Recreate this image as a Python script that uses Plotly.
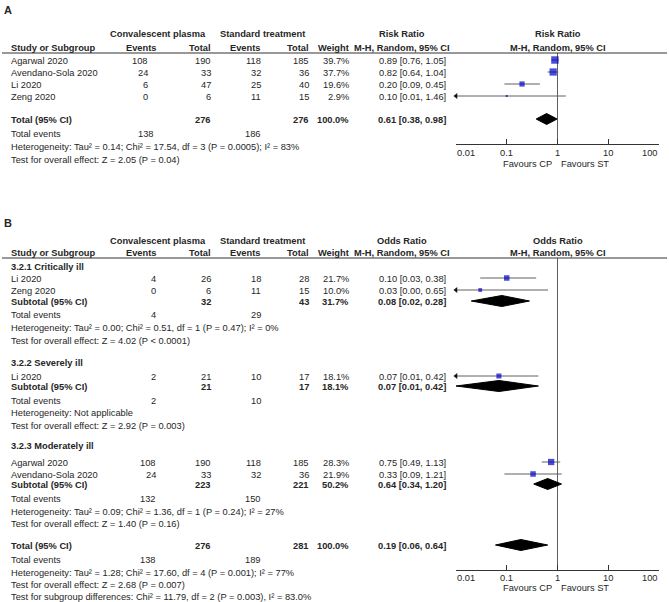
import math
import plotly.graph_objects as go

# ---------------- DATA ----------------
# Panel A: risk ratio
A_studies = ["Agarwal 2020", "Avendano-Sola 2020", "Li 2020", "Zeng 2020"]
A_cp_events = [108, 24, 6, 0]
A_cp_total = [190, 33, 47, 6]
A_st_events = [118, 32, 25, 11]
A_st_total = [185, 36, 40, 15]
A_weight = [39.7, 37.7, 19.6, 2.9]
A_est = [0.89, 0.82, 0.20, 0.10]
A_lo = [0.76, 0.64, 0.09, 0.01]
A_hi = [1.05, 1.04, 0.45, 1.46]
A_total_n = [276, 276]
A_total_events = [138, 186]
A_total_weight = 100.0
A_total_ci = [0.61, 0.38, 0.98]
A_het = "Heterogeneity: Tau² = 0.14; Chi² = 17.54, df = 3 (P = 0.0005); I² = 83%"
A_test = "Test for overall effect: Z = 2.05 (P = 0.04)"

# Panel B: odds ratio by subgroup
B_groups = ["3.2.1 Critically ill", "3.2.2 Severely ill", "3.2.3 Moderately ill"]
B_studies = [["Li 2020", "Zeng 2020"], ["Li 2020"], ["Agarwal 2020", "Avendano-Sola 2020"]]
B_cp_events = [[4, 0], [2], [108, 24]]
B_cp_total = [[26, 6], [21], [190, 33]]
B_st_events = [[18, 11], [10], [118, 32]]
B_st_total = [[28, 15], [17], [185, 36]]
B_weight = [[21.7, 10.0], [18.1], [28.3, 21.9]]
B_est = [[0.10, 0.03], [0.07], [0.75, 0.33]]
B_lo = [[0.03, 0.00], [0.01], [0.49, 0.09]]
B_hi = [[0.38, 0.65], [0.42], [1.13, 1.21]]
B_sub_n = [[32, 43], [21, 17], [223, 221]]
B_sub_weight = [31.7, 18.1, 50.2]
B_sub_ci = [[0.08, 0.02, 0.28], [0.07, 0.01, 0.42], [0.64, 0.34, 1.20]]
B_sub_events = [[4, 29], [2, 10], [132, 150]]
B_sub_het = ["Heterogeneity: Tau² = 0.00; Chi² = 0.51, df = 1 (P = 0.47); I² = 0%",
             "Heterogeneity: Not applicable",
             "Heterogeneity: Tau² = 0.09; Chi² = 1.36, df = 1 (P = 0.24); I² = 27%"]
B_sub_test = ["Test for overall effect: Z = 4.02 (P &lt; 0.0001)",
              "Test for overall effect: Z = 2.92 (P = 0.003)",
              "Test for overall effect: Z = 1.40 (P = 0.16)"]
B_total_n = [276, 281]
B_total_events = [138, 189]
B_total_weight = 100.0
B_total_ci = [0.19, 0.06, 0.64]
B_total_het = "Heterogeneity: Tau² = 1.28; Chi² = 17.60, df = 4 (P = 0.001); I² = 77%"
B_total_test = "Test for overall effect: Z = 2.68 (P = 0.007)"
B_subgroup_test = "Test for subgroup differences: Chi² = 11.79, df = 2 (P = 0.003), I² = 83.0%"

tick_vals = [0.01, 0.1, 1, 10, 100]
tick_text = ["0.01", "0.1", "1", "10", "100"]
favours = ["Favours CP", "Favours ST"]

# ---------------- LAYOUT CONSTANTS ----------------
W, H = 669, 602
FONT = "Liberation Sans, Arial, sans-serif"
FS = 9.3
TXT = "#262626"
BLUE = "#0000C8"
LINEC = "#606060"
X_NAME, X_CPE_A, X_CPE_A_TOT, X_CPE_B = 10, 149, 155, 157
X_CPT, X_STE, X_STT, X_WT, X_CI = 212, 262, 310, 350, 447
X_CP_HDR, X_ST_HDR, X_CI_HDR = 158, 262.5, 402
AX_L, AX_R = 456, 659
XMIN = 0.01
SQ_K = 1.18
DH = 5.5

ann = []
shapes = []
traces = []


def T(px, py, s, anchor="left", bold=False, size=FS):
    ann.append(dict(x=px / W, y=py, xref="paper", yref="y",
                    text=f"<b>{s}</b>" if bold else s, showarrow=False,
                    xanchor=anchor, yanchor="middle", borderpad=0,
                    font=dict(family=FONT, size=size, color=TXT)))


def hline(py):
    shapes.append(dict(type="line", xref="paper", yref="y", x0=2 / W, x1=667 / W,
                       y0=py, y1=py, line=dict(color="#333333", width=1)))


def header(y1, y2, title):
    T(X_CP_HDR, y1, "Convalescent plasma", "center", True)
    T(X_ST_HDR, y1, "Standard treatment", "center", True)
    T(X_CI_HDR, y1, title, "center", True)
    T((AX_L + AX_R) / 2, y1, title, "center", True)
    T(X_NAME, y2, "Study or Subgroup", "left", True)
    T(X_CP_HDR, y2, "Events", "right", True)
    T(X_CPT, y2, "Total", "right", True)
    T(X_STE, y2, "Events", "right", True)
    T(X_STT, y2, "Total", "right", True)
    T(X_WT, y2, "Weight", "right", True)
    T(X_CI_HDR, y2, "M-H, Random, 95% CI", "center", True)
    T((AX_L + AX_R) / 2, y2, "M-H, Random, 95% CI", "center", True)


def ci_txt(e, l, h):
    return f"{e:.2f} [{l:.2f}, {h:.2f}]"


def study_marks(xa, ests, los, his, ws, ys):
    lx, ly, ax_, ay_ = [], [], [], []
    for e, l, h, y in zip(ests, los, his, ys):
        lx += [max(l, XMIN), h, None]
        ly += [y, y, None]
        if l <= XMIN:
            ax_.append(XMIN)
            ay_.append(y)
    traces.append(go.Scatter(x=lx, y=ly, mode="lines", xaxis=xa, yaxis="y",
                             line=dict(color=LINEC, width=1), hoverinfo="skip",
                             showlegend=False, cliponaxis=False))
    if ax_:
        traces.append(go.Scatter(x=ax_, y=ay_, mode="markers", xaxis=xa, yaxis="y",
                                 marker=dict(symbol="triangle-left", size=5, color="#111"),
                                 showlegend=False, cliponaxis=False, hoverinfo="skip"))
    traces.append(go.Scatter(x=ests, y=ys, mode="markers", xaxis=xa, yaxis="y",
                             marker=dict(symbol="square", color=BLUE,
                                         size=[SQ_K * math.sqrt(w) for w in ws],
                                         line=dict(width=0)),
                             showlegend=False, cliponaxis=False))


def diamonds(xa, cis, ys):
    dx, dy = [], []
    for (e, l, h), y in zip(cis, ys):
        dx += [l, e, h, e, l, None]
        dy += [y, y - DH, y, y + DH, y, None]
    traces.append(go.Scatter(x=dx, y=dy, mode="lines", fill="toself", fillcolor="black",
                             line=dict(color="black", width=1), xaxis=xa, yaxis="y",
                             showlegend=False, hoverinfo="skip", cliponaxis=False))


def axis_labels(xa_ref, y_tick, y_fav):
    for i, (v, t) in enumerate(zip(tick_vals, tick_text)):
        anc = "left" if i == 0 else ("right" if i == len(tick_vals) - 1 else "center")
        ann.append(dict(x=math.log10(v), y=y_tick, xref=xa_ref, yref="y", text=t,
                        showarrow=False, xanchor=anc, yanchor="middle", borderpad=0,
                        font=dict(family=FONT, size=FS, color=TXT)))
    ann.append(dict(x=0, y=y_fav, xref=xa_ref, yref="y", text=favours[0], showarrow=False,
                    xanchor="right", yanchor="middle", xshift=-5, borderpad=0,
                    font=dict(family=FONT, size=FS, color=TXT)))
    ann.append(dict(x=0, y=y_fav, xref=xa_ref, yref="y", text=favours[1], showarrow=False,
                    xanchor="left", yanchor="middle", xshift=2, borderpad=0,
                    font=dict(family=FONT, size=FS, color=TXT)))


# ---------------- PANEL A ----------------
T(3, 10, "A", "left", True, 11)
header(34, 48, "Risk Ratio")
hline(53)
A_Y = [61, 73, 85, 97]
for i, y in enumerate(A_Y):
    T(X_NAME, y, A_studies[i])
    T(X_CPE_A, y, str(A_cp_events[i]), "right")
    T(X_CPT, y, str(A_cp_total[i]), "right")
    T(X_STE, y, str(A_st_events[i]), "right")
    T(X_STT, y, str(A_st_total[i]), "right")
    T(X_WT, y, f"{A_weight[i]:.1f}%", "right")
    T(X_CI, y, ci_txt(A_est[i], A_lo[i], A_hi[i]), "right")
yT = 120
T(X_NAME, yT, "Total (95% CI)", "left", True)
T(X_CPT, yT, str(A_total_n[0]), "right", True)
T(X_STT, yT, str(A_total_n[1]), "right", True)
T(X_WT, yT, f"{A_total_weight:.1f}%", "right", True)
T(X_CI, yT, ci_txt(*A_total_ci), "right", True)
T(X_NAME, 134, "Total events")
T(X_CPE_A_TOT, 134, str(A_total_events[0]), "right")
T(X_STE, 134, str(A_total_events[1]), "right")
T(X_NAME, 147, A_het)
T(X_NAME, 160, A_test)

traces.append(go.Scatter(x=[1, 1], y=[53, 144], mode="lines", xaxis="x", yaxis="y",
                         line=dict(color=LINEC, width=1), showlegend=False, hoverinfo="skip"))
study_marks("x", A_est, A_lo, A_hi, A_weight, [y - 1 for y in A_Y])
diamonds("x", [A_total_ci], [yT - 1])
axis_labels("x", 153, 164)

# ---------------- PANEL B ----------------
T(3, 223, "B", "left", True, 11)
header(241, 253, "Odds Ratio")
hline(258)
G_Y = [267, 363, 446]
S_Y = [[279, 291], [377], [463, 475]]
SUB_Y = [302, 387, 485]
EV_Y = [315, 401, 499]
HET_Y = [328, 413, 512]
TEST_Y = [341, 426, 524]
for g in range(len(B_groups)):
    T(X_NAME, G_Y[g], B_groups[g], "left", True)
    for j, y in enumerate(S_Y[g]):
        T(X_NAME, y, B_studies[g][j])
        T(X_CPE_B, y, str(B_cp_events[g][j]), "right")
        T(X_CPT, y, str(B_cp_total[g][j]), "right")
        T(X_STE, y, str(B_st_events[g][j]), "right")
        T(X_STT, y, str(B_st_total[g][j]), "right")
        T(X_WT, y, f"{B_weight[g][j]:.1f}%", "right")
        T(X_CI, y, ci_txt(B_est[g][j], B_lo[g][j], B_hi[g][j]), "right")
    ys = SUB_Y[g]
    T(X_NAME, ys, "Subtotal (95% CI)", "left", True)
    T(X_CPT, ys, str(B_sub_n[g][0]), "right", True)
    T(X_STT, ys, str(B_sub_n[g][1]), "right", True)
    T(X_WT, ys, f"{B_sub_weight[g]:.1f}%", "right", True)
    T(X_CI, ys, ci_txt(*B_sub_ci[g]), "right", True)
    T(X_NAME, EV_Y[g], "Total events")
    T(X_CPE_B, EV_Y[g], str(B_sub_events[g][0]), "right")
    T(X_STE, EV_Y[g], str(B_sub_events[g][1]), "right")
    T(X_NAME, HET_Y[g], B_sub_het[g])
    T(X_NAME, TEST_Y[g], B_sub_test[g])
    study_marks("x2", B_est[g], B_lo[g], B_hi[g], B_weight[g], [y - 1 for y in S_Y[g]])

yBT = 546
T(X_NAME, yBT, "Total (95% CI)", "left", True)
T(X_CPT, yBT, str(B_total_n[0]), "right", True)
T(X_STT, yBT, str(B_total_n[1]), "right", True)
T(X_WT, yBT, f"{B_total_weight:.1f}%", "right", True)
T(X_CI, yBT, ci_txt(*B_total_ci), "right", True)
T(X_NAME, 560, "Total events")
T(X_CPE_B, 560, str(B_total_events[0]), "right")
T(X_STE, 560, str(B_total_events[1]), "right")
T(X_NAME, 573, B_total_het)
T(X_NAME, 585, B_total_test)
T(X_NAME, 597, B_subgroup_test)

traces.append(go.Scatter(x=[1, 1], y=[258, 570], mode="lines", xaxis="x2", yaxis="y",
                         line=dict(color=LINEC, width=1), showlegend=False, hoverinfo="skip"))
diamonds("x2", B_sub_ci + [B_total_ci], [y - 1 for y in SUB_Y] + [yBT - 1])
axis_labels("x2", 578, 588)

# ---------------- FIGURE ----------------
fig = go.Figure(traces)
axis_common = dict(type="log", range=[-2, 2], domain=[AX_L / W, AX_R / W], anchor="free",
                   showline=True, linecolor="#333333", linewidth=1, ticks="inside",
                   ticklen=5, tickcolor="#333333", tickvals=tick_vals,
                   showticklabels=False, showgrid=False, zeroline=False, automargin=False)
fig.update_layout(
    width=W, height=H, margin=dict(l=0, r=0, t=0, b=0),
    paper_bgcolor="white", plot_bgcolor="rgba(0,0,0,0)",
    xaxis=dict(axis_common, position=1 - 144 / H),
    xaxis2=dict(axis_common, position=1 - 570 / H),
    yaxis=dict(range=[H, 0], domain=[0, 1], visible=False, showgrid=False, zeroline=False),
    annotations=ann, shapes=shapes, showlegend=False,
)
fig.write_html("out.html", config={"displayModeBar": False},
               post_script="document.body.style.margin='0px';document.body.style.overflow='hidden';")
